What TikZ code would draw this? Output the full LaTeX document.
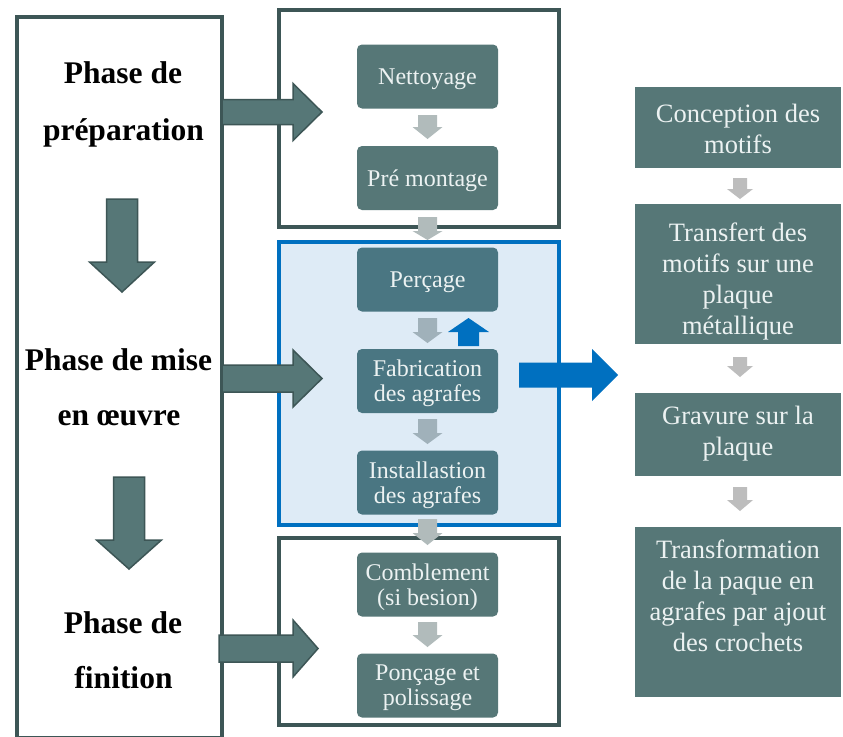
\documentclass[tikz,border=0pt]{standalone}
\usepackage{fontspec}
\setmainfont{Liberation Serif}
\definecolor{darkB}{RGB}{61,86,86}
\definecolor{tealF}{RGB}{86,119,119}
\definecolor{tealB}{RGB}{74,118,130}
\definecolor{paleB}{RGB}{222,235,246}
\definecolor{strongB}{RGB}{0,112,192}
\definecolor{grayW}{RGB}{177,187,187}
\definecolor{grayB}{RGB}{160,177,186}
\definecolor{grayR}{RGB}{189,189,189}
\definecolor{lightT}{RGB}{236,242,242}
\newcommand{\RArr}[7]{%
  \path[#1] (#2,#5-#6) -- (#3,#5-#6) -- (#3,#5-#7) -- (#4,#5) -- (#3,#5+#7) -- (#3,#5+#6) -- (#2,#5+#6) -- cycle;}
\newcommand{\DArr}[7]{%
  \path[#1] (#2-#6,#3) -- (#2+#6,#3) -- (#2+#6,#4) -- (#2+#7,#4) -- (#2,#5) -- (#2-#7,#4) -- (#2-#6,#4) -- cycle;}
\begin{document}
\begin{tikzpicture}[x=1pt,y=-1pt,
  frame/.style={draw=darkB, line width=4pt},
  bframe/.style={draw=strongB, fill=paleB, line width=4pt},
  phasearrow/.style={fill=tealF, draw=darkB, line width=1.5pt, line join=miter},
  phasetxt/.style={font=\fontsize{31.5}{36}\selectfont\bfseries, anchor=base, inner sep=0pt},
  procA/.style={fill=tealF, rounded corners=5pt, minimum width=141pt, minimum height=64pt, inner sep=0pt},
  procB/.style={procA, fill=tealB},
  proctxt/.style={text=lightT, align=center, inner sep=0pt, font=\fontsize{24}{25}\selectfont},
  rbox/.style={fill=tealF, minimum width=206pt, inner sep=0pt},
  rtxt/.style={text=lightT, align=center, inner sep=0pt, font=\fontsize{26.5}{31}\selectfont},
  garrW/.style={fill=grayW},
  garrB/.style={fill=grayB},
  garrR/.style={fill=grayR},
  bluearr/.style={fill=strongB}]
\useasboundingbox (0,0) rectangle (843,736);
\fill[white] (0,0) rectangle (843,736);
% containers
\draw[frame] (17,17) rectangle (222,737.5);
\draw[frame] (278.5,9.5) rectangle (558.5,226.5);
\draw[bframe] (278.5,242) rectangle (558.5,524.5);
\draw[frame] (278.5,538) rectangle (558.5,724.5);
% left labels
\node[phasetxt] (l1a) at (123,83) {Phase de};
\node[phasetxt] (l1b) at (123.5,140) {préparation};
\node[phasetxt] (l2a) at (118.5,370) {Phase de mise};
\node[phasetxt] (l2b) at (119,425) {en œuvre};
\node[phasetxt] (l3a) at (123,633) {Phase de};
\node[phasetxt] (l3b) at (123.5,688) {finition};
% left down arrows
\DArr{phasearrow}{122}{199}{262}{292}{15.5}{32.5}
\DArr{phasearrow}{129}{477}{540}{569}{15.5}{32.5}
% phase arrows to the right
\RArr{phasearrow}{222}{293}{322}{112}{12.5}{28.5}
\RArr{phasearrow}{222}{293}{322}{378.5}{13.5}{28.5}
\RArr{phasearrow}{219}{293}{318}{648.5}{13.5}{28.5}
% process boxes
\node[procA] (n1) at (427.5,76.5) {};
\node[procA] (n2) at (427.5,178) {};
\node[procB] (n3) at (427.5,279.5) {};
\node[procB] (n4) at (427.5,381) {};
\node[procB] (n5) at (427.5,482.5) {};
\node[procA] (n6) at (427.5,584.5) {};
\node[procA] (n7) at (427.5,685.5) {};
\node[proctxt] (n1t) at (427.5,79.5) {Nettoyage};
\node[proctxt] (n2t) at (427.5,181) {Pré montage};
\node[proctxt] (n3t) at (427.5,282.5) {Perçage};
\node[proctxt] (n4t) at (427.5,383.5) {Fabrication\\des agrafes};
\node[proctxt] (n5t) at (427.5,485) {Installastion\\des agrafes};
\node[proctxt] (n6t) at (427.5,587) {Comblement\\(si besion)};
\node[proctxt] (n7t) at (427.5,688) {Ponçage et\\polissage};
% small arrows
\DArr{garrW}{427.5}{115}{127}{139}{9.5}{15}
\DArr{garrW}{427.5}{217}{231}{240}{9.5}{15}
\DArr{garrB}{427.5}{318}{332}{343}{9.5}{15}
\DArr{garrB}{427.5}{419}{433}{444}{9.5}{15}
\DArr{garrW}{427.5}{519}{533}{545}{9.5}{15}
\DArr{garrW}{427.5}{622}{635}{647}{9.5}{15}
% blue arrows
\DArr{bluearr}{468.5}{346}{332}{318}{10.5}{20.5}
\RArr{bluearr}{519}{592}{618}{375}{12.5}{26}
% right column
\node[rbox, minimum height=81pt] (c1) at (738,127.5) {};
\node[rbox, minimum height=140pt] (c2) at (738,274) {};
\node[rbox, minimum height=83pt] (c3) at (738,434.5) {};
\node[rbox, minimum height=170pt] (c4) at (738,612) {};
\node[rtxt] (t1) at (738,129) {Conception des\\motifs};
\node[rtxt] (t2) at (738,281) {Transfert des\\motifs sur une\\plaque\\métallique};
\node[rtxt] (t3) at (738,434) {Gravure sur la\\plaque};
\node[rtxt] (t4) at (738,596) {Transformation\\de la paque en\\agrafes par ajout\\des crochets};
\DArr{garrR}{740}{178}{189}{199}{7}{13}
\DArr{garrR}{740}{357}{366}{377}{7}{13}
\DArr{garrR}{740}{487}{500}{511}{7}{13}
\end{tikzpicture}
\end{document}
